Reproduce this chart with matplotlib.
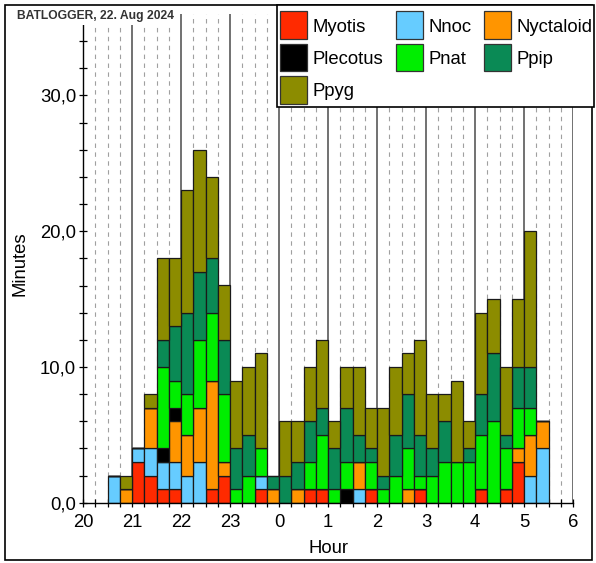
import numpy as np
import matplotlib
matplotlib.use("Agg")
import matplotlib.pyplot as plt
from matplotlib.patches import Rectangle
from matplotlib.ticker import MultipleLocator, FuncFormatter

plt.rcParams["font.family"] = ["Liberation Sans", "DejaVu Sans"]

# 15-minute slots from 20:30 to 05:15, minutes of activity per species
slot_start = np.arange(20.5, 29.5, 0.25)

myotis    = [0, 0, 3, 2, 1, 1, 0, 0, 1, 2, 0, 0, 1, 0, 0, 0, 1, 1,
             0, 0, 0, 1, 0, 0, 0, 1, 0, 0, 0, 0, 1, 0, 1, 3, 0, 0]
nnoc      = [2, 0, 1, 2, 2, 2, 2, 3, 0, 0, 0, 0, 1, 0, 0, 0, 0, 0,
             0, 0, 1, 0, 0, 0, 0, 0, 0, 0, 0, 0, 0, 0, 0, 0, 2, 4]
nyctaloid = [0, 1, 0, 3, 0, 3, 3, 4, 8, 1, 0, 0, 0, 1, 0, 1, 0, 0,
             0, 0, 2, 0, 0, 0, 1, 0, 0, 0, 0, 0, 0, 0, 0, 1, 3, 2]
plecotus  = [0, 0, 0, 0, 1, 1, 0, 0, 0, 0, 0, 0, 0, 0, 0, 0, 0, 0,
             0, 1, 0, 0, 0, 0, 0, 0, 0, 0, 0, 0, 0, 0, 0, 0, 0, 0]
pnat      = [0, 0, 0, 0, 6, 2, 3, 5, 5, 5, 1, 2, 2, 0, 0, 0, 2, 4,
             1, 2, 0, 2, 1, 2, 3, 1, 2, 3, 3, 3, 4, 6, 3, 3, 2, 0]
ppip      = [0, 0, 0, 0, 2, 4, 6, 5, 4, 4, 3, 3, 0, 1, 2, 2, 3, 2,
             3, 4, 2, 1, 1, 3, 4, 3, 2, 3, 0, 1, 3, 5, 1, 3, 3, 0]
ppyg      = [0, 1, 0, 1, 6, 5, 9, 9, 6, 4, 5, 5, 7, 0, 4, 3, 4, 5,
             2, 3, 5, 3, 5, 5, 3, 7, 4, 2, 6, 2, 6, 4, 5, 5, 10, 0]

species = ["Myotis", "Nnoc", "Nyctaloid", "Plecotus", "Pnat", "Ppip", "Ppyg"]
series = [myotis, nnoc, nyctaloid, plecotus, pnat, ppip, ppyg]
colors = ["#ff2a00", "#66ccff", "#ff9500", "#000000", "#00ee00", "#0a8a55", "#8c8c00"]

hour_labels = ["20", "21", "22", "23", "0", "1", "2", "3", "4", "5", "6"]

W, H = 596, 563


def fx(x):
    return x / W


def fy(y):
    return 1 - y / H


fig = plt.figure(figsize=(W / 100, H / 100), dpi=100)
ax = fig.add_axes([fx(83), fy(502.7), 490 / W, 488.7 / H])

# hour lines solid, quarter-hour lines dashed
for q in np.arange(20.25, 30.01, 0.25):
    if abs(q - round(q)) < 1e-9:
        ax.axvline(q, color="#4a4a4a", lw=1.1, zorder=0)
    else:
        ax.axvline(q, color="#a0a0a0", lw=0.8, dashes=(4, 4), zorder=0)

bottom = np.zeros(len(slot_start))
for name, vals, col in zip(species, series, colors):
    vals = np.array(vals, dtype=float)
    ax.bar(slot_start, vals, width=0.25, bottom=bottom, align="edge",
           color=col, edgecolor="#1a1a1a", linewidth=0.9, zorder=2)
    bottom += vals

ax.set_xlim(20, 30)
ax.set_ylim(0, 36)
ax.set_xticks(np.arange(20, 31))
ax.set_xticklabels(hour_labels)
ax.xaxis.set_minor_locator(MultipleLocator(0.25))
ax.yaxis.set_major_locator(MultipleLocator(10))
ax.yaxis.set_minor_locator(MultipleLocator(2))
ax.yaxis.set_major_formatter(FuncFormatter(lambda v, p: f"{v:.1f}".replace(".", ",")))
ax.tick_params(which="both", direction="inout", length=6, width=0.9, labelsize=13.3)
ax.tick_params(axis="y", pad=2)
ax.tick_params(axis="x", pad=5)

for side in ("top", "right"):
    ax.spines[side].set_visible(False)
for side in ("left", "bottom"):
    ax.spines[side].set_linewidth(1.0)

ax.set_xlabel("Hour", fontsize=13.3)
ax.set_ylabel("Minutes", fontsize=13.3)
ax.xaxis.set_label_coords(0.5, -0.0765)
ax.yaxis.set_label_coords(-0.112, 0.49)

# legend box, three entries per row (pixel positions of the swatches)
fig.patches.append(Rectangle((fx(277), fy(107)), 317 / W, 102 / H,
                             transform=fig.transFigure, facecolor="white",
                             edgecolor="black", linewidth=1.2, zorder=5))
col_x = [280, 396, 483.5]
row_y = [11.5, 44, 76.5]
for i, (name, col) in enumerate(zip(species, colors)):
    x0 = col_x[i % 3]
    y0 = row_y[i // 3]
    fig.patches.append(Rectangle((fx(x0), fy(y0 + 27)), 27 / W, 27 / H,
                                 transform=fig.transFigure, facecolor=col,
                                 edgecolor="#333333", linewidth=0.9, zorder=6))
    fig.text(fx(x0 + 33), fy(y0 + 13.5), name, fontsize=13.3,
             va="center_baseline", ha="left", zorder=7)

fig.text(fx(17), fy(15.5), "BATLOGGER, 22. Aug 2024", fontsize=8.7,
         fontweight="bold", color="#333333", va="center", ha="left",
         bbox=dict(facecolor="white", edgecolor="none", pad=2.5))

fig.patches.append(Rectangle((fx(5), fy(560)), 587 / W, 555 / H,
                             transform=fig.transFigure, fill=False,
                             edgecolor="black", linewidth=1.2, zorder=-1))

fig.savefig("out.png", dpi=100)
plt.close(fig)
